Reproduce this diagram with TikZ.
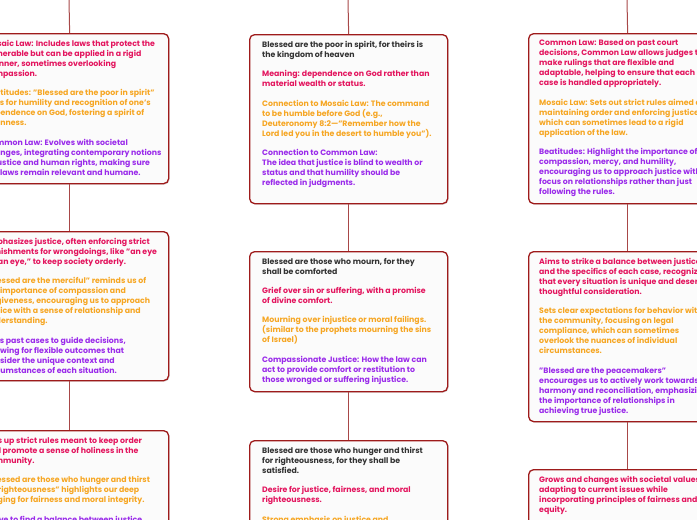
\documentclass[tikz,border=0pt]{standalone}
\usepackage{fontspec}
\setmainfont{Poppins}
\usetikzlibrary{shadows}
\definecolor{bxcol}{HTML}{9E1B1B}
\definecolor{cncol}{HTML}{A84848}
\definecolor{cblack}{HTML}{333333}
\definecolor{cpink}{HTML}{E3155E}
\definecolor{corange}{HTML}{F6A623}
\definecolor{cpurple}{HTML}{9A2BEA}
\newcommand{\txtbox}[1]{\parbox[t]{250pt}{\raggedright #1}}
\newcommand{\gap}{\\[9.3pt]}
\tikzset{
  box/.style={draw=bxcol, line width=1.3pt, fill=white!98.5!black, rounded corners=5pt,
    inner sep=0pt, minimum width=198pt, anchor=north west,
    drop shadow={shadow xshift=1pt, shadow yshift=-1pt, opacity=0.25}},
  txt/.style={anchor=north west, inner sep=0pt,
    font=\bfseries\fontsize{7.8}{10}\selectfont},
  conn/.style={draw=cncol, line width=1pt}
}
\begin{document}
\begin{tikzpicture}[x=1pt,y=-1pt]
\useasboundingbox (0,0) rectangle (697,520);
% ---------- boxes ----------
\node[box, minimum height=150pt] (L1) at (-30,33) {};
\node[box, minimum height=149pt] (L2) at (-30,231) {};
\node[box, minimum height=150pt] (L3) at (-30,430) {};
\node[box, minimum height=169pt] (M1) at (249,34) {};
\node[box, minimum height=140pt] (M2) at (249,251) {};
\node[box, minimum height=150pt] (M3) at (249,440) {};
\node[box, minimum height=170pt] (R1) at (528,33) {};
\node[box, minimum height=170pt] (R2) at (528,251) {};
\node[box, minimum height=150pt] (R3) at (528,469) {};
% ---------- connectors ----------
\coordinate (L0) at (69,0);
\coordinate (M0) at (348,0);
\coordinate (R0) at (627,0);
\draw[conn] (L0) -- (L1.north);
\draw[conn] (L1.south) -- (L2.north);
\draw[conn] (L2.south) -- (L3.north);
\draw[conn] (M0) -- (M1.north);
\draw[conn] (M1.south) -- (M2.north);
\draw[conn] (M2.south) -- (M3.north);
\draw[conn] (R0) -- (R1.north);
\draw[conn] (R1.south) -- (R2.north);
\draw[conn] (R2.south) -- (R3.north);
% ---------- texts ----------
\node[txt] (L1t) at (-15,40) {\txtbox{\color{cpink}Mosaic Law: Includes laws that protect the\\vulnerable but can be applied in a rigid\\manner, sometimes overlooking\\compassion.\gap
\color{corange}Beatitudes: "Blessed are the poor in spirit"\\calls for humility and recognition of one's\\dependence on God, fostering a spirit of\\openness.\gap
\color{cpurple}Common Law: Evolves with societal\\changes, integrating contemporary notions\\of justice and human rights, making sure\\the laws remain relevant and humane.}};
\node[txt] (L2t) at (-15,238) {\txtbox{\color{cpink}Emphasizes justice, often enforcing strict\\punishments for wrongdoings, like "an eye\\for an eye," to keep society orderly.\gap
\color{corange}"Blessed are the merciful" reminds us of\\the importance of compassion and\\forgiveness, encouraging us to approach\\justice with a sense of relationship and\\understanding.\gap
\color{cpurple}Uses past cases to guide decisions,\\allowing for flexible outcomes that\\consider the unique context and\\circumstances of each situation.}};
\node[txt] (L3t) at (-15,437) {\txtbox{\color{cpink}Sets up strict rules meant to keep order\\and promote a sense of holiness in the\\community.\gap
\color{corange}"Blessed are those who hunger and thirst\\for righteousness" highlights our deep\\longing for fairness and moral integrity.\gap
\color{cpurple}Strive to find a balance between justice}};
\node[txt] (M1t) at (262,41) {\txtbox{\color{cblack}Blessed are the poor in spirit, for theirs is\\the kingdom of heaven\gap
\color{cpink}Meaning: dependence on God rather than\\material wealth or status.\gap
\color{corange}Connection to Mosaic Law: The command\\to be humble before God (e.g.,\\Deuteronomy 8:2—"Remember how the\\Lord led you in the desert to humble you").\gap
\color{cpurple}Connection to Common Law:\\The idea that justice is blind to wealth or\\status and that humility should be\\reflected in judgments.}};
\node[txt] (M2t) at (262,258) {\txtbox{\color{cblack}Blessed are those who mourn, for they\\shall be comforted\gap
\color{cpink}Grief over sin or suffering, with a promise\\of divine comfort.\gap
\color{corange}Mourning over injustice or moral failings.\\(similar to the prophets mourning the sins\\of Israel)\gap
\color{cpurple}Compassionate Justice: How the law can\\act to provide comfort or restitution to\\those wronged or suffering injustice.}};
\node[txt] (M3t) at (262,447) {\txtbox{\color{cblack}Blessed are those who hunger and thirst\\for righteousness, for they shall be\\satisfied.\gap
\color{cpink}Desire for justice, fairness, and moral\\righteousness.\gap
\color{corange}Strong emphasis on justice and}};
\node[txt] (R1t) at (539,40) {\txtbox{\color{cpink}Common Law: Based on past court\\decisions, Common Law allows judges to\\make rulings that are flexible and\\adaptable, helping to ensure that each\\case is handled appropriately.\gap
\color{corange}Mosaic Law: Sets out strict rules aimed at\\maintaining order and enforcing justice,\\which can sometimes lead to a rigid\\application of the law.\gap
\color{cpurple}Beatitudes: Highlight the importance of\\compassion, mercy, and humility,\\encouraging us to approach justice with a\\focus on relationships rather than just\\following the rules.}};
\node[txt] (R2t) at (539,258) {\txtbox{\color{cpink}Aims to strike a balance between justice\\and the specifics of each case, recognizing\\that every situation is unique and deserves\\thoughtful consideration.\gap
\color{corange}Sets clear expectations for behavior within\\the community, focusing on legal\\compliance, which can sometimes\\overlook the nuances of individual\\circumstances.\gap
\color{cpurple}"Blessed are the peacemakers"\\encourages us to actively work towards\\harmony and reconciliation, emphasizing\\the importance of relationships in\\achieving true justice.}};
\node[txt] (R3t) at (539,476) {\txtbox{\color{cpink}Grows and changes with societal values,\\adapting to current issues while\\incorporating principles of fairness and\\equity.}};
\end{tikzpicture}
\end{document}
